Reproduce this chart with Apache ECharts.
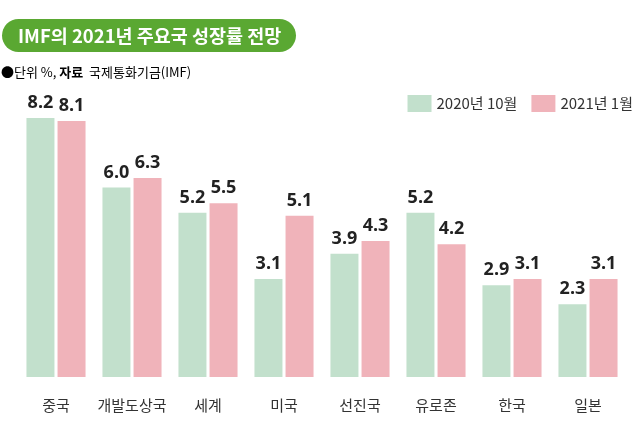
<!DOCTYPE html>
<html><head><meta charset="utf-8">
<script src="https://cdn.jsdelivr.net/npm/echarts@6/dist/echarts.min.js"></script>
<style>html,body{margin:0;padding:0;background:#fff}#c{width:640px;height:435px}</style>
</head><body><div id="c"></div>
<script>
const categories = ['중국','개발도상국','세계','미국','선진국','유로존','한국','일본'];
const seriesNames = ['2020년 10월','2021년 1월'];
const oct2020 = [8.2, 6.0, 5.2, 3.1, 3.9, 5.2, 2.9, 2.3];
const jan2021 = [8.1, 6.3, 5.5, 5.1, 4.3, 4.2, 3.1, 3.1];

const font = '"Noto Sans CJK KR", "Noto Sans", sans-serif';
const chart = echarts.init(document.getElementById('c'), null, {renderer:'canvas'});
const lbl = {show:true, position:'top', distance:6, fontSize:18, fontWeight:'bold', color:'#222', fontFamily:'"Open Sans", "Noto Sans", sans-serif', formatter:p=>p.value.toFixed(1)};
chart.setOption({
  animation:false,
  textStyle:{fontFamily:font},
  graphic:[
    {type:'rect', shape:{x:2, y:19, width:294, height:33, r:16.5}, style:{fill:'#5aa832'}},
    {type:'text', x:18, y:36, style:{text:'IMF의 2021년 주요국 성장률 전망', fill:'#fff', font:'bold 18.5px ' + font, textVerticalAlign:'middle'}},
    {type:'text', x:1, y:72, style:{text:'{a|●단위 %, }{b|자료}{a|  국제통화기금(IMF)}', textVerticalAlign:'middle', rich:{a:{fontSize:13, color:'#333', fontFamily:font}, b:{fontSize:13, fontWeight:'bold', color:'#333', fontFamily:font}}}}
  ],
  legend:{right:2, top:90, itemWidth:24, itemHeight:17, itemGap:14, icon:'rect',
    textStyle:{fontSize:15, color:'#333', fontFamily:font}, data:seriesNames},
  grid:{left:18, right:14, top:61, bottom:58},
  xAxis:{type:'category', data:categories, axisLine:{show:false}, axisTick:{show:false},
    axisLabel:{interval:0, fontSize:15, color:'#333', margin:21, fontFamily:font}},
  yAxis:{type:'value', min:0, max:10, show:false, splitLine:{show:false}},
  series:[
    {name:seriesNames[0], type:'bar', data:oct2020, barWidth:28, barGap:'11%', itemStyle:{color:'#c2e0cc'}, label:lbl},
    {name:seriesNames[1], type:'bar', data:jan2021, barWidth:28, barGap:'11%', itemStyle:{color:'#f0b3ba'}, label:lbl}
  ]
});
</script></body></html>
